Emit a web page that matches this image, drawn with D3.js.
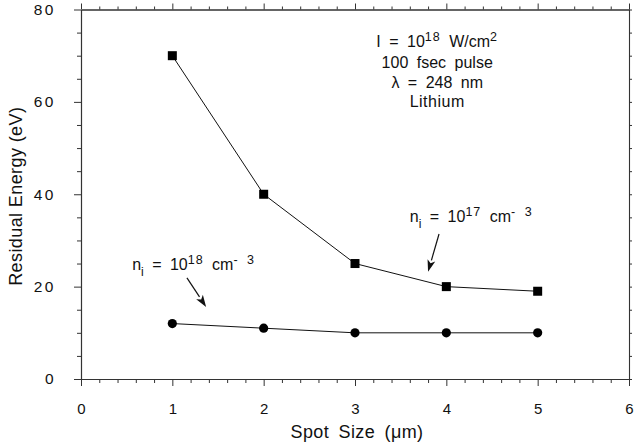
<!DOCTYPE html>
<html><head><meta charset="utf-8">
<script src="https://cdn.jsdelivr.net/npm/d3@7"></script>
<style>
html,body{margin:0;padding:0;background:#fff;}
text{font-family:"Liberation Sans",Arial,Helvetica,sans-serif;fill:#111;}
</style></head>
<body><svg id="c" width="634" height="448"></svg>
<script>
const spotSize = [1, 2, 3, 4, 5];
const energyLowDensity = [70, 40, 25, 20, 19];   // n_i = 1e17 (squares)
const energyHighDensity = [12, 11, 10, 10, 10];  // n_i = 1e18 (circles)
const xTicks = [0, 1, 2, 3, 4, 5, 6];
const yTicks = [0, 20, 40, 60, 80];

const svg = d3.select("#c");
const x = d3.scaleLinear().domain([0, 6]).range([81, 629]);
const y = d3.scaleLinear().domain([0, 80]).range([379, 9.5]);

const axisColor = "#333";
function styleAxis(g){
  g.select(".domain").attr("stroke", axisColor).attr("stroke-width", 1.1);
  g.selectAll(".tick line").attr("stroke", axisColor).attr("stroke-width", 1);
}
const minorX = d3.range(0, 6.001, 0.2).filter(v => Math.abs(v - Math.round(v)) > 1e-6);
const minorY = d3.range(0, 80.001, 5).filter(v => v % 20 !== 0);

// bottom
svg.append("g").attr("transform", `translate(0,${y(0)})`)
  .call(d3.axisBottom(x).tickValues(minorX).tickSize(4).tickFormat("").tickSizeOuter(0)).call(styleAxis);
svg.append("g").attr("transform", `translate(0,${y(0)})`)
  .call(d3.axisBottom(x).tickValues(xTicks).tickSize(7).tickPadding(17).tickFormat(d3.format("d")).tickSizeOuter(0))
  .call(styleAxis)
  .call(g => g.selectAll("text").attr("font-size", 15).attr("fill", "#111"));
// top
svg.append("g").attr("transform", `translate(0,${y(80)})`)
  .call(d3.axisTop(x).tickValues(minorX).tickSize(3).tickFormat("").tickSizeOuter(0)).call(styleAxis);
svg.append("g").attr("transform", `translate(0,${y(80)})`)
  .call(d3.axisTop(x).tickValues(xTicks).tickSize(6).tickFormat("").tickSizeOuter(0)).call(styleAxis);
// left
svg.append("g").attr("transform", `translate(${x(0)},0)`)
  .call(d3.axisLeft(y).tickValues(minorY).tickSize(4).tickFormat("").tickSizeOuter(0)).call(styleAxis);
svg.append("g").attr("transform", `translate(${x(0)},0)`)
  .call(d3.axisLeft(y).tickValues(yTicks).tickSize(7).tickPadding(18).tickFormat(d3.format("d")).tickSizeOuter(0))
  .call(styleAxis)
  .call(g => g.selectAll("text").attr("font-size", 15.5).attr("letter-spacing", "2.5px").attr("fill", "#111"));
// right
svg.append("g").attr("transform", `translate(${x(6)},0)`)
  .call(d3.axisRight(y).tickValues(d3.range(0, 80.001, 5)).tickSize(3).tickFormat("").tickSizeOuter(0)).call(styleAxis);

// axis titles
svg.append("text").attr("x", 357).attr("y", 438).attr("text-anchor", "middle")
  .attr("font-size", 18).attr("letter-spacing", "0.4px").attr("word-spacing", "4px").text("Spot Size (μm)");
svg.append("text").attr("transform", `translate(22,${y(40) + 2}) rotate(-90)`)
  .attr("text-anchor", "middle").attr("font-size", 18).attr("letter-spacing", "0.4px").text("Residual Energy (eV)");

// lines
const line = d3.line().x((d, i) => x(spotSize[i])).y(d => y(d));
svg.append("path").datum(energyLowDensity).attr("d", line)
  .attr("fill", "none").attr("stroke", "#111").attr("stroke-width", 1);
svg.append("path").datum(energyHighDensity).attr("d", line)
  .attr("fill", "none").attr("stroke", "#111").attr("stroke-width", 1);

const sq = 9;
svg.selectAll("rect.sq").data(energyLowDensity).join("rect")
  .attr("x", (d, i) => x(spotSize[i]) - sq / 2).attr("y", d => y(d) - sq / 2)
  .attr("width", sq).attr("height", sq).attr("fill", "#000");
svg.selectAll("circle.ci").data(energyHighDensity).join("circle")
  .attr("cx", (d, i) => x(spotSize[i])).attr("cy", d => y(d)).attr("r", 4.6).attr("fill", "#000");

// annotations
function supLine(t, parts, xv, yv){
  const el = svg.append("text").attr("x", x(xv)).attr("y", y(yv)).attr("font-size", 16)
    .attr("word-spacing", "4px").attr("text-anchor", t);
  parts.forEach(p => {
    const s = el.append("tspan").text(p.t);
    if (p.sup) s.attr("dy", -6).attr("font-size", 12.5).attr("letter-spacing", "1px");
    if (p.sub) s.attr("dy", 6).attr("font-size", 12);
    if (p.dy) s.attr("dy", p.dy);
  });
  return el;
}
supLine("middle", [{t:"I = 10"}, {t:"18", sup:true}, {t:" W/cm", dy:6}, {t:"2", sup:true}], 3.9, 71.8);
supLine("middle", [{t:"100 fsec pulse"}], 3.9, 67.4);
supLine("middle", [{t:"λ = 248 nm"}], 3.9, 63.1);
supLine("middle", [{t:"Lithium"}], 3.9, 58.8).attr("letter-spacing", "0.5px");

supLine("start", [{t:"n"}, {t:"i", sub:true}, {t:" = 10", dy:-6}, {t:"17", sup:true}, {t:" cm", dy:6}, {t:"- 3", sup:true}], 3.6, 34.0);
supLine("start", [{t:"n"}, {t:"i", sub:true}, {t:" = 10", dy:-6}, {t:"18", sup:true}, {t:" cm", dy:6}, {t:"- 3", sup:true}], 0.56, 23.6);

// arrows
const arrows = [
  {x1: 3.92, y1: 31.4, x2: 3.80, y2: 23.2},
  {x1: 1.16, y1: 21.9, x2: 1.37, y2: 15.6}
];
arrows.forEach(a => {
  const X1 = x(a.x1), Y1 = y(a.y1), X2 = x(a.x2), Y2 = y(a.y2);
  const ang = Math.atan2(Y2 - Y1, X2 - X1), L = 12, W = 4;
  const bx = X2 - L * Math.cos(ang), by = Y2 - L * Math.sin(ang);
  svg.append("line").attr("x1", X1).attr("y1", Y1).attr("x2", bx).attr("y2", by)
    .attr("stroke", "#111").attr("stroke-width", 1.2);
  const px = -Math.sin(ang) * W, py = Math.cos(ang) * W;
  svg.append("path").attr("d", `M${X2},${Y2}L${bx + px},${by + py}L${bx + 3*Math.cos(ang)},${by + 3*Math.sin(ang)}L${bx - px},${by - py}Z`)
    .attr("fill", "#111");
});
</script></body></html>
